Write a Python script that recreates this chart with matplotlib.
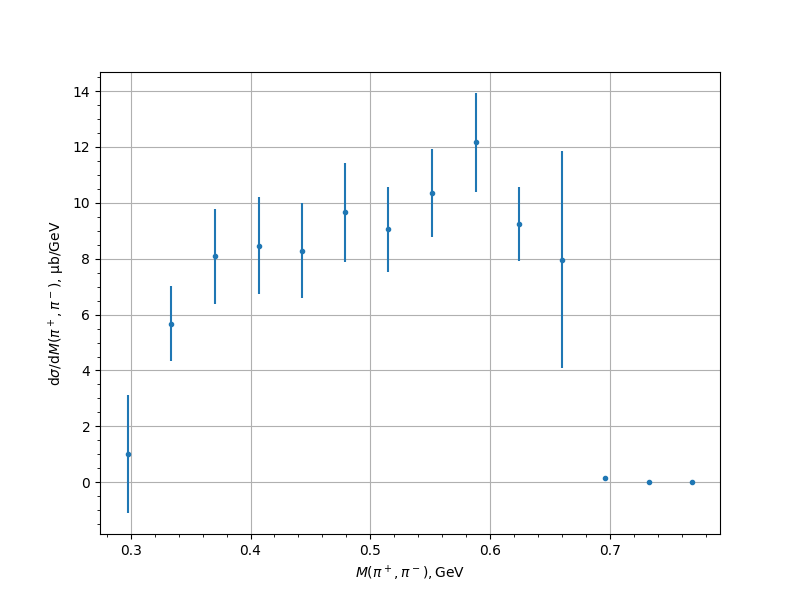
import numpy as np
import matplotlib
matplotlib.use('Agg')
import matplotlib.pyplot as plt

# Data
mass = [0.298, 0.334, 0.370, 0.407, 0.443, 0.479, 0.515,
        0.551, 0.588, 0.624, 0.660, 0.696, 0.732, 0.768]
xsec = [1.02, 5.68, 8.08, 8.47, 8.29, 9.66, 9.05,
        10.34, 12.16, 9.24, 7.97, 0.17, 0.0, 0.0]
xsec_err = [2.12, 1.35, 1.7, 1.75, 1.7, 1.77, 1.52,
            1.58, 1.77, 1.32, 3.89, 0.0, 0.0, 0.0]

fig, ax = plt.subplots(figsize=(8, 6), dpi=100)
ax.errorbar(mass, xsec, yerr=xsec_err, fmt='.')
ax.set_xlabel(r'$M(\pi^+,\pi^-), \mathrm{GeV}$')
ax.set_ylabel(r'd$\sigma$/d$M(\pi^+,\pi^-)$, μb/GeV')
ax.grid(True)
ax.minorticks_on()
plt.savefig('out.png', dpi=100)
